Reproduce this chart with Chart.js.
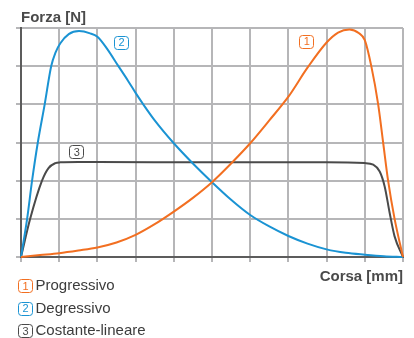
<!DOCTYPE html>
<html>
<head>
<meta charset="utf-8">
<script src="https://cdn.jsdelivr.net/npm/chart.js@4/dist/chart.umd.min.js"></script>
<style>
  html, body { margin: 0; padding: 0; background: #fff; }
  canvas { display: block; }
</style>
</head>
<body>
<canvas id="forceChart" width="414" height="338"></canvas>
<script>
// Forza / corsa curves, read as (corsa, forza) in grid units
const progressivoX = [0, 0.5, 1, 1.5, 2, 2.5, 3, 3.5, 4, 4.5, 5, 5.5, 6, 6.5, 7, 7.5, 8, 8.3, 8.6, 8.85, 9, 9.17, 9.35, 9.48, 9.61, 9.78, 10];
const progressivoY = [0, 0.05, 0.1, 0.17, 0.25, 0.38, 0.58, 0.86, 1.19, 1.55, 1.96, 2.45, 2.98, 3.58, 4.2, 4.96, 5.62, 5.88, 5.96, 5.86, 5.68, 5, 4, 3, 2, 1, 0];

const degressivoX = [0, 0.16, 0.29, 0.44, 0.62, 0.79, 0.9, 1.03, 1.25, 1.52, 1.81, 2, 2.25, 2.55, 2.8, 3, 3.2, 3.5, 4, 4.5, 5, 5.5, 6, 6.5, 7, 7.5, 8, 8.5, 9, 9.5, 10];
const degressivoY = [0, 1, 2, 3, 4, 5, 5.35, 5.6, 5.84, 5.92, 5.86, 5.77, 5.46, 5.0, 4.62, 4.3, 4.0, 3.58, 2.98, 2.45, 1.96, 1.5, 1.1, 0.8, 0.55, 0.35, 0.2, 0.11, 0.06, 0.02, 0];

const costanteX = [0, 0.24, 0.55, 0.72, 0.9, 1.03, 1.5, 2, 5, 8, 9, 9.22, 9.39, 9.52, 9.65, 9.78, 10];
const costanteY = [0, 1, 2, 2.33, 2.46, 2.48, 2.49, 2.49, 2.48, 2.48, 2.46, 2.42, 2.24, 1.85, 1.16, 0.54, 0];

const seriesNames = ["Progressivo", "Degressivo", "Costante-lineare"];
const seriesTags = ["1", "2", "3"];
const seriesColors = ["#f26f21", "#1a93d3", "#4a4a4a"];

const axisTitleY = "Forza [N]";
const axisTitleX = "Corsa [mm]";

const textColor = "#4a4a4a";
const gridColor = "#b6b6b8";
const axisColor = "#5c5c5c";

function toPoints(xs, ys) {
  return xs.map((x, i) => ({ x: x, y: ys[i] }));
}

// small rounded box with the curve number inside
function drawTag(ctx, cx, cy, text, color) {
  const w = 14, h = 13;
  ctx.save();
  ctx.strokeStyle = color;
  ctx.lineWidth = 1;
  ctx.beginPath();
  ctx.roundRect(Math.round(cx - w / 2) + 0.5, Math.round(cy - h / 2) + 0.5, w, h, 3);
  ctx.stroke();
  ctx.fillStyle = color;
  ctx.font = "11px 'Liberation Sans', Arial, sans-serif";
  ctx.textAlign = "center";
  ctx.textBaseline = "middle";
  ctx.fillText(text, cx + 0.5, cy + 1);
  ctx.restore();
}

// where each number tag sits on the plot (data units)
const tagPlaces = [
  { x: 7.47, y: 5.65 },
  { x: 2.62, y: 5.63 },
  { x: 1.45, y: 2.76 }
];

const overlayPlugin = {
  id: "overlay",
  afterDraw(chart) {
    const ctx = chart.ctx;
    const xs = chart.scales.x;
    const ys = chart.scales.y;

    // axis titles
    ctx.save();
    ctx.fillStyle = textColor;
    ctx.font = "bold 15px 'Liberation Sans', Arial, sans-serif";
    ctx.textBaseline = "alphabetic";
    ctx.textAlign = "left";
    ctx.fillText(axisTitleY, 21, 22);
    ctx.textAlign = "right";
    ctx.fillText(axisTitleX, xs.right, 281);
    ctx.restore();

    // tags on the curves
    chart.data.datasets.forEach((ds, i) => {
      const p = tagPlaces[i];
      drawTag(ctx, xs.getPixelForValue(p.x), ys.getPixelForValue(p.y), seriesTags[i], ds.borderColor);
    });

    // legend rows under the plot
    chart.data.datasets.forEach((ds, i) => {
      const base = 290 + i * 22.5;
      drawTag(ctx, 25, base - 4.5, seriesTags[i], ds.borderColor);
      ctx.save();
      ctx.fillStyle = "#3c3c3c";
      ctx.font = "15px 'Liberation Sans', Arial, sans-serif";
      ctx.textBaseline = "alphabetic";
      ctx.fillText(ds.label, 35.5, base);
      ctx.restore();
    });
  }
};

const datasets = seriesNames.map((name, i) => ({
  label: name,
  data: toPoints([progressivoX, degressivoX, costanteX][i], [progressivoY, degressivoY, costanteY][i]),
  borderColor: seriesColors[i],
  borderWidth: 2,
  pointRadius: 0,
  cubicInterpolationMode: "monotone",
  fill: false,
  clip: 4
}));

new Chart(document.getElementById("forceChart"), {
  type: "line",
  data: { datasets },
  options: {
    responsive: false,
    devicePixelRatio: 1,
    animation: false,
    layout: { padding: { left: 16, top: 28, right: 11, bottom: 76 } },
    plugins: {
      legend: { display: false },
      tooltip: { enabled: false }
    },
    scales: {
      x: {
        type: "linear",
        min: 0,
        max: 10,
        ticks: { stepSize: 1, display: false },
        grid: { color: gridColor, lineWidth: 2, tickLength: 5 },
        border: { color: axisColor, width: 2 }
      },
      y: {
        type: "linear",
        min: 0,
        max: 6,
        ticks: { stepSize: 1, display: false },
        grid: { color: gridColor, lineWidth: 2, tickLength: 5 },
        border: { color: axisColor, width: 2 }
      }
    }
  },
  plugins: [overlayPlugin]
});
</script>
</body>
</html>
